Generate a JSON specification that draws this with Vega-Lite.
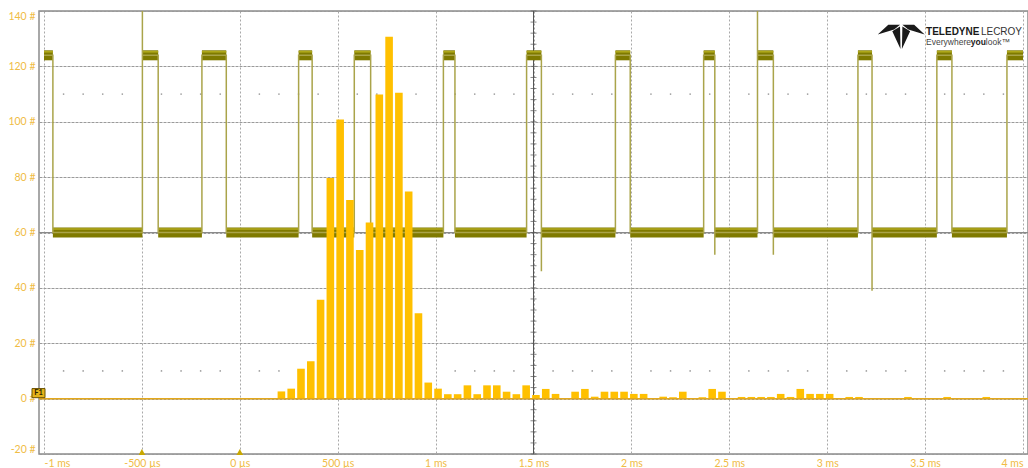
{
  "$schema": "https://vega.github.io/schema/vega-lite/v6.json",
  "width": 989,
  "height": 443,
  "autosize": {"type": "none"},
  "padding": {"left": 39, "top": 11, "right": 0, "bottom": 14},
  "background": "white",
  "config": {"view": {"stroke": "#8c8c8c", "strokeWidth": 1.5}, "font": "Lato"},
  "datasets": {
    "one": [{"k": 1}],
    "hist": [
      {"t": 0.2125, "c": 2.6}, {"t": 0.2625, "c": 3.6}, {"t": 0.3125, "c": 10.8}, {"t": 0.3625, "c": 13.5},
      {"t": 0.4125, "c": 35.7}, {"t": 0.4625, "c": 79.7}, {"t": 0.5125, "c": 100.8}, {"t": 0.5625, "c": 71.7},
      {"t": 0.6125, "c": 53.7}, {"t": 0.6625, "c": 63.6}, {"t": 0.7125, "c": 109.8}, {"t": 0.7625, "c": 130.7},
      {"t": 0.8125, "c": 110.5}, {"t": 0.8625, "c": 74.8}, {"t": 0.9125, "c": 30.8}, {"t": 0.9625, "c": 5.8},
      {"t": 1.0125, "c": 3.6}, {"t": 1.0625, "c": 1.6}, {"t": 1.1125, "c": 1.6}, {"t": 1.1625, "c": 4.8},
      {"t": 1.2125, "c": 1.6}, {"t": 1.2625, "c": 4.8}, {"t": 1.3125, "c": 4.8}, {"t": 1.3625, "c": 2.5},
      {"t": 1.4125, "c": 1.6}, {"t": 1.4625, "c": 4.8}, {"t": 1.5125, "c": 1.3}, {"t": 1.5625, "c": 3.5},
      {"t": 1.6125, "c": 1.7}, {"t": 1.7125, "c": 2.5}, {"t": 1.7625, "c": 3.5}, {"t": 1.8125, "c": 0.7},
      {"t": 1.8625, "c": 2.5}, {"t": 1.9125, "c": 2.5}, {"t": 1.9625, "c": 2.5}, {"t": 2.0125, "c": 1.7},
      {"t": 2.0625, "c": 1.7}, {"t": 2.1625, "c": 0.7}, {"t": 2.2125, "c": 0.5}, {"t": 2.2625, "c": 2.5},
      {"t": 2.3625, "c": 0.5}, {"t": 2.4125, "c": 3.5}, {"t": 2.4625, "c": 2.5}, {"t": 2.5625, "c": 0.6},
      {"t": 2.6125, "c": 0.6}, {"t": 2.6625, "c": 0.6}, {"t": 2.7125, "c": 0.6}, {"t": 2.7625, "c": 1.7},
      {"t": 2.8125, "c": 0.6}, {"t": 2.8625, "c": 3.5}, {"t": 2.9125, "c": 1.7}, {"t": 2.9625, "c": 1.7},
      {"t": 3.0125, "c": 1.7}, {"t": 3.1125, "c": 0.6}, {"t": 3.1625, "c": 0.6}, {"t": 3.4125, "c": 0.6},
      {"t": 3.6125, "c": 0.6}, {"t": 3.8125, "c": 0.6}
    ],
    "trace": [
      {"i": 0, "t": -1, "v": 124}, {"i": 1, "t": -0.9546, "v": 124}, {"i": 2, "t": -0.9546, "v": 60},
      {"i": 3, "t": -0.4975, "v": 60}, {"i": 4, "t": -0.4975, "v": 140}, {"i": 5, "t": -0.4975, "v": 124},
      {"i": 6, "t": -0.4168, "v": 124}, {"i": 7, "t": -0.4168, "v": 60}, {"i": 8, "t": -0.1935, "v": 60},
      {"i": 9, "t": -0.1935, "v": 124}, {"i": 10, "t": -0.069, "v": 124}, {"i": 11, "t": -0.069, "v": 60},
      {"i": 12, "t": 0.3004, "v": 60}, {"i": 13, "t": 0.3004, "v": 124}, {"i": 14, "t": 0.3695, "v": 124},
      {"i": 15, "t": 0.3695, "v": 60}, {"i": 16, "t": 0.5847, "v": 60}, {"i": 17, "t": 0.5847, "v": 124},
      {"i": 18, "t": 0.6683, "v": 124}, {"i": 19, "t": 0.6683, "v": 60}, {"i": 20, "t": 1.0398, "v": 60},
      {"i": 21, "t": 1.0398, "v": 124}, {"i": 22, "t": 1.0988, "v": 124}, {"i": 23, "t": 1.0988, "v": 60},
      {"i": 24, "t": 1.4647, "v": 60}, {"i": 25, "t": 1.4647, "v": 124}, {"i": 26, "t": 1.5403, "v": 124},
      {"i": 27, "t": 1.5403, "v": 46}, {"i": 28, "t": 1.5403, "v": 60}, {"i": 29, "t": 1.9183, "v": 60},
      {"i": 30, "t": 1.9183, "v": 124}, {"i": 31, "t": 1.994, "v": 124}, {"i": 32, "t": 1.994, "v": 60},
      {"i": 33, "t": 2.369, "v": 60}, {"i": 34, "t": 2.369, "v": 124}, {"i": 35, "t": 2.426, "v": 124},
      {"i": 36, "t": 2.426, "v": 52}, {"i": 37, "t": 2.426, "v": 60}, {"i": 38, "t": 2.644, "v": 60},
      {"i": 39, "t": 2.644, "v": 140}, {"i": 40, "t": 2.644, "v": 124}, {"i": 41, "t": 2.725, "v": 124},
      {"i": 42, "t": 2.725, "v": 52}, {"i": 43, "t": 2.725, "v": 60}, {"i": 44, "t": 3.157, "v": 60},
      {"i": 45, "t": 3.157, "v": 124}, {"i": 46, "t": 3.229, "v": 124}, {"i": 47, "t": 3.229, "v": 39},
      {"i": 48, "t": 3.229, "v": 60}, {"i": 49, "t": 3.56, "v": 60}, {"i": 50, "t": 3.56, "v": 124},
      {"i": 51, "t": 3.637, "v": 124}, {"i": 52, "t": 3.637, "v": 60}, {"i": 53, "t": 3.918, "v": 60},
      {"i": 54, "t": 3.918, "v": 124}, {"i": 55, "t": 4, "v": 124}
    ],
    "plateaus": [
      {"a": -1, "b": -0.9546, "v": 124}, {"a": -0.4975, "b": -0.4168, "v": 124}, {"a": -0.1935, "b": -0.069, "v": 124},
      {"a": 0.3004, "b": 0.3695, "v": 124}, {"a": 0.5847, "b": 0.6683, "v": 124}, {"a": 1.0398, "b": 1.0988, "v": 124},
      {"a": 1.4647, "b": 1.5403, "v": 124}, {"a": 1.9183, "b": 1.994, "v": 124}, {"a": 2.369, "b": 2.426, "v": 124},
      {"a": 2.644, "b": 2.725, "v": 124}, {"a": 3.157, "b": 3.229, "v": 124}, {"a": 3.56, "b": 3.637, "v": 124},
      {"a": 3.918, "b": 4, "v": 124},
      {"a": -0.9546, "b": -0.4975, "v": 60}, {"a": -0.4168, "b": -0.1935, "v": 60}, {"a": -0.069, "b": 0.3004, "v": 60},
      {"a": 0.3695, "b": 0.5847, "v": 60}, {"a": 0.6683, "b": 1.0398, "v": 60}, {"a": 1.0988, "b": 1.4647, "v": 60},
      {"a": 1.5403, "b": 1.9183, "v": 60}, {"a": 1.994, "b": 2.369, "v": 60}, {"a": 2.426, "b": 2.644, "v": 60},
      {"a": 2.725, "b": 3.157, "v": 60}, {"a": 3.229, "b": 3.56, "v": 60}, {"a": 3.637, "b": 3.918, "v": 60}
    ],
    "dots": [
      {"t": -0.9}, {"t": -0.8}, {"t": -0.7}, {"t": -0.6}, {"t": -0.4}, {"t": -0.3}, {"t": -0.2}, {"t": -0.1},
      {"t": 0.1}, {"t": 0.2}, {"t": 0.3}, {"t": 0.4}, {"t": 0.6}, {"t": 0.7}, {"t": 0.8}, {"t": 0.9},
      {"t": 1.1}, {"t": 1.2}, {"t": 1.3}, {"t": 1.4}, {"t": 1.6}, {"t": 1.7}, {"t": 1.8}, {"t": 1.9},
      {"t": 2.1}, {"t": 2.2}, {"t": 2.3}, {"t": 2.4}, {"t": 2.6}, {"t": 2.7}, {"t": 2.8}, {"t": 2.9},
      {"t": 3.1}, {"t": 3.2}, {"t": 3.3}, {"t": 3.4}, {"t": 3.6}, {"t": 3.7}, {"t": 3.8}, {"t": 3.9}
    ],
    "cticks": [
      {"v": -20}, {"v": -16}, {"v": -12}, {"v": -8}, {"v": -4}, {"v": 0}, {"v": 4}, {"v": 8}, {"v": 12}, {"v": 16},
      {"v": 20}, {"v": 24}, {"v": 28}, {"v": 32}, {"v": 36}, {"v": 40}, {"v": 44}, {"v": 48}, {"v": 52}, {"v": 56},
      {"v": 60}, {"v": 64}, {"v": 68}, {"v": 72}, {"v": 76}, {"v": 80}, {"v": 84}, {"v": 88}, {"v": 92}, {"v": 96},
      {"v": 100}, {"v": 104}, {"v": 108}, {"v": 112}, {"v": 116}, {"v": 120}, {"v": 124}, {"v": 128}, {"v": 132},
      {"v": 136}, {"v": 140}
    ],
    "trig": [{"t": -0.5}, {"t": 0}]
  },
  "layer": [
    {
      "data": {"name": "dots"},
      "mark": {"type": "point", "filled": true, "size": 3, "color": "#a0a0a0", "opacity": 1},
      "encoding": {
        "x": {"field": "t", "type": "quantitative",
          "scale": {"domain": [-1, 4], "nice": false, "zero": false},
          "axis": {"title": null, "values": [-1, -0.5, 0, 0.5, 1, 1.5, 2, 2.5, 3, 3.5, 4],
            "labelExpr": "abs(datum.value) < 1 ? (datum.value * 1000) + ' µs' : datum.value + ' ms'",
            "labelFlush": false, "labelBound": false,
            "labelAlign": {"expr": "datum.value <= -1 ? 'left' : (datum.value >= 4 ? 'right' : 'center')"},
            "labelColor": "#f0bc45", "labelFontSize": 10.5, "labelPadding": 4,
            "ticks": false, "domain": false, "grid": true, "gridColor": "#a8a8a8", "gridDash": [2, 2], "gridWidth": 1}},
        "y": {"datum": 110, "type": "quantitative",
          "scale": {"domain": [-20, 140], "nice": false, "zero": false},
          "axis": {"title": null, "values": [-20, 0, 20, 40, 60, 80, 100, 120, 140],
            "labelExpr": "datum.value + ' #'", "labelFlush": true, "labelColor": "#f0bc45",
            "labelFontSize": 10.5, "labelPadding": 4, "ticks": false, "domain": false,
            "grid": true, "gridColor": "#9a9a9a", "gridDash": [3, 1], "gridWidth": 1}}
      }
    },
    {
      "data": {"name": "dots"},
      "mark": {"type": "point", "filled": true, "size": 3, "color": "#a0a0a0", "opacity": 1},
      "encoding": {
        "x": {"field": "t", "type": "quantitative"},
        "y": {"datum": 10, "type": "quantitative"}
      }
    },
    {
      "data": {"name": "one"},
      "mark": {"type": "rule", "color": "#8a8a8a", "strokeWidth": 1},
      "encoding": {"y": {"datum": 60, "type": "quantitative"}}
    },
    {
      "data": {"name": "one"},
      "mark": {"type": "rule", "color": "#555555", "strokeWidth": 1},
      "encoding": {"x": {"datum": 1.5, "type": "quantitative"}}
    },
    {
      "data": {"name": "cticks"},
      "mark": {"type": "tick", "orient": "horizontal", "size": 6, "thickness": 1, "color": "#555555"},
      "encoding": {
        "x": {"datum": 1.5, "type": "quantitative"},
        "y": {"field": "v", "type": "quantitative"}
      }
    },
    {
      "data": {"name": "plateaus"},
      "mark": {"type": "rule", "color": "#7f7a00", "strokeWidth": 10},
      "encoding": {
        "x": {"field": "a", "type": "quantitative"},
        "x2": {"field": "b"},
        "y": {"field": "v", "type": "quantitative"}
      }
    },
    {
      "data": {"name": "plateaus"},
      "mark": {"type": "rule", "color": "#b3ab1c", "strokeWidth": 1.5, "yOffset": -3.5},
      "encoding": {
        "x": {"field": "a", "type": "quantitative"},
        "x2": {"field": "b"},
        "y": {"field": "v", "type": "quantitative"}
      }
    },
    {
      "data": {"name": "trace"},
      "mark": {"type": "line", "color": "#aaa44a", "strokeWidth": 1.5},
      "encoding": {
        "x": {"field": "t", "type": "quantitative"},
        "y": {"field": "v", "type": "quantitative"},
        "order": {"field": "i", "type": "quantitative"}
      }
    },
    {
      "data": {"name": "hist"},
      "mark": {"type": "bar", "size": 7.6, "color": "#ffc000"},
      "encoding": {
        "x": {"field": "t", "type": "quantitative"},
        "y": {"field": "c", "type": "quantitative"},
        "y2": {"datum": 0}
      }
    },
    {
      "data": {"name": "one"},
      "mark": {"type": "rule", "color": "#e3a81c", "strokeWidth": 1.5},
      "encoding": {"y": {"datum": 0, "type": "quantitative"}}
    },
    {
      "data": {"name": "trig"},
      "mark": {"type": "point", "shape": "triangle-up", "filled": true, "size": 45, "color": "#c9a800", "opacity": 1, "yOffset": -2},
      "encoding": {
        "x": {"field": "t", "type": "quantitative"},
        "y": {"datum": -20, "type": "quantitative"}
      }
    },
    {
      "data": {"name": "one"},
      "mark": {"type": "point", "shape": "M-1,-0.7L1,-0.7L1,0.7L-1,0.7Z", "filled": true, "size": 169,
        "fill": "#e4b31a", "stroke": "#6b5200", "strokeWidth": 1, "opacity": 1, "xOffset": -5.5, "yOffset": -5.5},
      "encoding": {"x": {"datum": -1, "type": "quantitative"}, "y": {"datum": 0, "type": "quantitative"}}
    },
    {
      "data": {"name": "one"},
      "mark": {"type": "text", "text": "F1", "fontSize": 7.5, "fontWeight": "bold", "color": "#2b2100",
        "align": "center", "baseline": "middle", "dx": -5.5, "dy": -5.5},
      "encoding": {"x": {"datum": -1, "type": "quantitative"}, "y": {"datum": 0, "type": "quantitative"}}
    },
    {
      "data": {"name": "one"},
      "mark": {"type": "point", "shape": "M-1,-0.08L-0.55,-0.5L-0.05,-0.5L-0.3,-0.3Z M-0.03,0.53L-0.38,-0.22L-0.05,-0.42Z M1,-0.08L0.55,-0.5L0.05,-0.5L0.3,-0.3Z M0.03,0.53L0.38,-0.22L0.05,-0.42Z",
        "filled": true, "size": 2209, "color": "#1a1a1a", "opacity": 1},
      "encoding": {"x": {"datum": 3.378, "type": "quantitative"}, "y": {"datum": 130.8, "type": "quantitative"}}
    },
    {
      "data": {"name": "one"},
      "mark": {"type": "text", "text": "TELEDYNE", "font": "Liberation Sans", "fontWeight": "bold", "fontSize": 10,
        "color": "#1a1a1a", "align": "left", "baseline": "alphabetic"},
      "encoding": {"x": {"datum": 3.505, "type": "quantitative"}, "y": {"datum": 131.3, "type": "quantitative"}}
    },
    {
      "data": {"name": "one"},
      "mark": {"type": "text", "text": "LECROY", "font": "Liberation Sans", "fontSize": 10,
        "color": "#333333", "align": "left", "baseline": "alphabetic"},
      "encoding": {"x": {"datum": 3.785, "type": "quantitative"}, "y": {"datum": 131.3, "type": "quantitative"}}
    },
    {
      "data": {"name": "one"},
      "mark": {"type": "text", "text": "Everywhere", "font": "Liberation Sans", "fontSize": 8.5,
        "color": "#444444", "align": "left", "baseline": "alphabetic"},
      "encoding": {"x": {"datum": 3.505, "type": "quantitative"}, "y": {"datum": 127.7, "type": "quantitative"}}
    },
    {
      "data": {"name": "one"},
      "mark": {"type": "text", "text": "you", "font": "Liberation Sans", "fontWeight": "bold", "fontSize": 8.5,
        "color": "#222222", "align": "left", "baseline": "alphabetic"},
      "encoding": {"x": {"datum": 3.733, "type": "quantitative"}, "y": {"datum": 127.7, "type": "quantitative"}}
    },
    {
      "data": {"name": "one"},
      "mark": {"type": "text", "text": "look™", "font": "Liberation Sans", "fontSize": 8.5,
        "color": "#444444", "align": "left", "baseline": "alphabetic"},
      "encoding": {"x": {"datum": 3.81, "type": "quantitative"}, "y": {"datum": 127.7, "type": "quantitative"}}
    }
  ]
}
